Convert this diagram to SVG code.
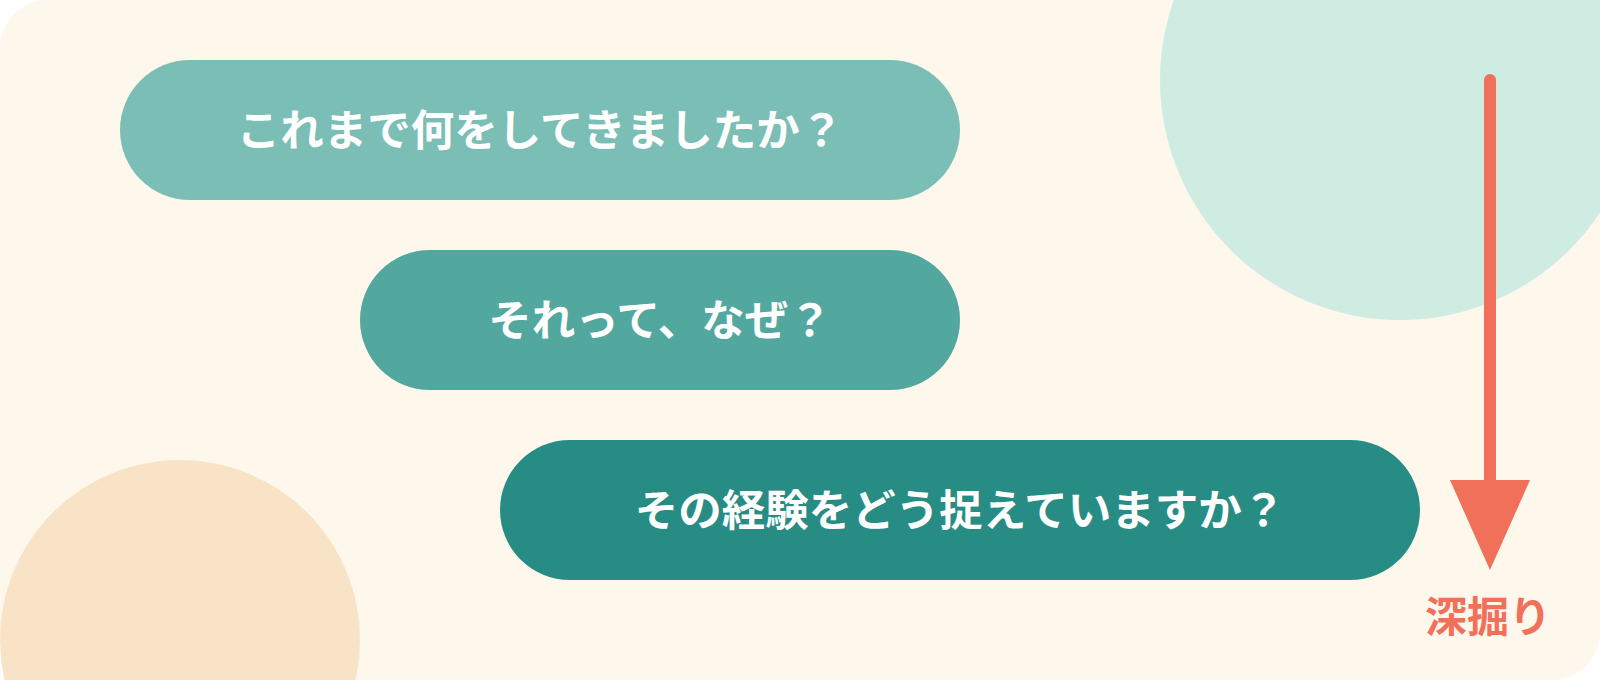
<svg xmlns="http://www.w3.org/2000/svg" width="1600" height="680" viewBox="0 0 1600 680">
  <style>
    .q { font-family: "Noto Sans CJK JP", "Noto Sans", sans-serif; font-weight: 700; font-size: 43.5px; fill: #FFFFFF; text-anchor: middle; }
    .lbl { font-family: "Noto Sans CJK JP", "Noto Sans", sans-serif; font-weight: 700; font-size: 42px; fill: #F0705A; text-anchor: middle; }
  </style>
  <rect x="0" y="0" width="1600" height="680" fill="#FFFFFF"/>
  <g id="background">
    <rect x="0" y="0" width="1600" height="680" rx="48" ry="48" fill="#FEF7EC"/>
    <circle cx="1400" cy="80" r="240" fill="#CFECE3"/>
    <circle cx="180" cy="640" r="180" fill="#F9E3C6"/>
  </g>
  <g id="node-1">
    <rect x="120" y="60" width="840" height="140" rx="70" ry="70" fill="#7ABEB5"/>
    <text class="q" x="540" y="146">これまで何をしてきましたか？</text>
  </g>
  <g id="node-2">
    <rect x="360" y="250" width="600" height="140" rx="70" ry="70" fill="#52A89E"/>
    <text class="q" x="660" y="336">それって、なぜ？</text>
  </g>
  <g id="node-3">
    <rect x="500" y="440" width="920" height="140" rx="70" ry="70" fill="#278C84"/>
    <text class="q" x="960" y="526">その経験をどう捉えていますか？</text>
  </g>
  <g id="connectors">
    <line x1="1490" y1="80" x2="1490" y2="482" stroke="#F0705A" stroke-width="12" stroke-linecap="round"/>
    <polygon points="1450,480 1530,480 1490,570" fill="#F0705A"/>
    <text class="lbl" x="1488" y="632">深掘り</text>
  </g>
</svg>
